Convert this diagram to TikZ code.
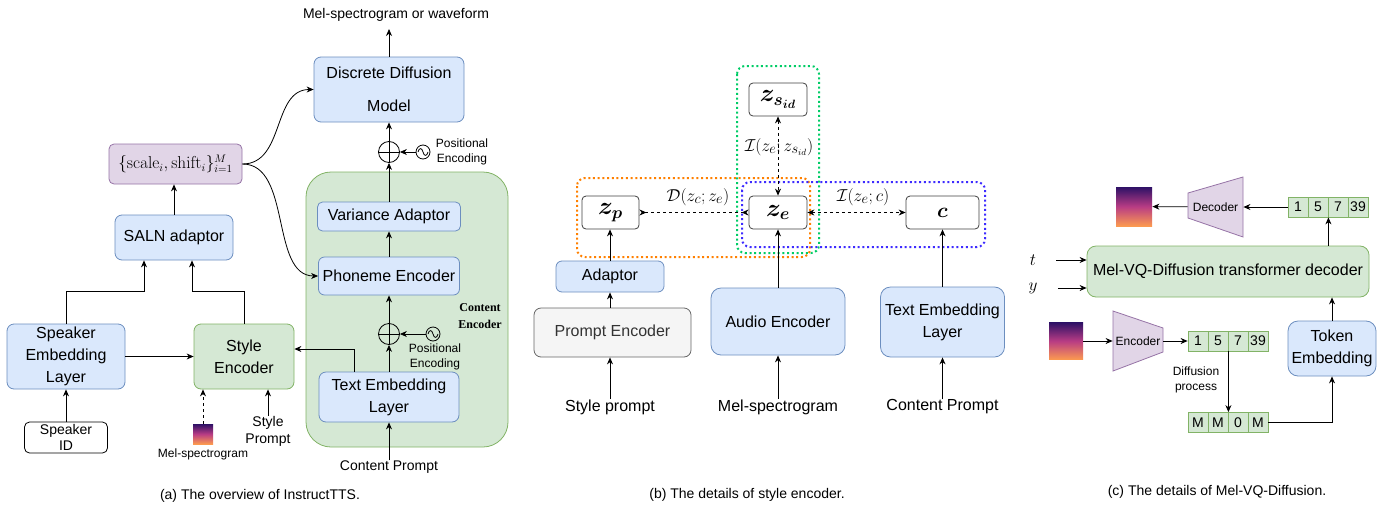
\documentclass[tikz,border=0pt]{standalone}
\usepackage[no-math]{fontspec}
\setmainfont{Liberation Sans}
\newfontfamily\cencfont{Liberation Serif}
\usepackage{amsmath}
\usepackage{bm}
\usetikzlibrary{
  arrows.meta,
}
\definecolor{blueLine}{HTML}{6C8EBF}
\definecolor{blueFill}{HTML}{DAE8FC}
\definecolor{greenLine}{HTML}{82B366}
\definecolor{greenFill}{HTML}{D5E8D4}
\definecolor{purpleLine}{HTML}{9673A6}
\definecolor{purpleFill}{HTML}{E1D5E7}
\definecolor{grayLine}{HTML}{666666}
\definecolor{grayFill}{HTML}{F5F5F5}
\definecolor{grayText}{HTML}{333333}
\definecolor{grpGreen}{HTML}{00CC66}
\definecolor{grpOrange}{HTML}{FF8000}
\definecolor{grpBlue}{HTML}{3D2BFF}
\definecolor{specTop}{HTML}{2E1166}
\definecolor{specMid}{HTML}{B83C84}
\definecolor{specBot}{HTML}{FC9A50}

\begin{document}
\begin{tikzpicture}[x=1pt,y=-1pt,line width=0.8pt,
  >={Stealth[length=7pt,width=6pt]},
  every node/.style={inner sep=0pt,font=\fontsize{16}{19}\selectfont}]
\useasboundingbox (0,0) rectangle (1396,506);

\tikzset{
  box/.style={draw=#1Line, fill=#1Fill, rounded corners=7pt, align=center,
    font=\fontsize{16}{22}\selectfont},
  zbox/.style={draw=black!75, fill=white, rounded corners=4pt,
    minimum width=58pt, minimum height=33pt, font=\fontsize{25}{28}\selectfont},
  mlab/.style={font=\fontsize{19}{21}\selectfont},
  cell/.style={draw=greenLine, fill=greenFill, minimum width=20pt,
    minimum height=20pt, font=\fontsize{14}{16}\selectfont},
  small/.style={align=center, font=\fontsize{12}{15}\selectfont},
  mid/.style={align=center, font=\fontsize{14}{17}\selectfont},
  group/.style={draw=#1, line width=2pt, dash pattern=on 2pt off 2.7pt,
    rounded corners=8pt},
  plus/.style={circle, draw, minimum size=21pt, path picture={
    \draw (path picture bounding box.north) -- (path picture bounding box.south)
          (path picture bounding box.west) -- (path picture bounding box.east);}},
  wave/.style={circle, draw, minimum size=14pt, path picture={
    \draw[shift={(path picture bounding box.center)}]
      (-5,0) .. controls (-4,-4.5) and (-1,-4.5) .. (0,0)
      .. controls (1,4.5) and (4,4.5) .. (5,0);}},
  spec/.style={top color=specTop, bottom color=specBot, middle color=specMid},
  trap/.style={draw=purpleLine, fill=purpleFill},
}

\node[mid] (melout) at (396,15) {Mel-spectrogram or waveform};
\node[box=blue, minimum width=150pt, minimum height=65pt,
  font=\fontsize{16}{33}\selectfont] (ddm) at (389,89.5) {Discrete Diffusion\\Model};
\coordinate (ddmout) at (389,29);
\draw[->] (ddm.north) -- (ddmout);
\node[plus] (add1) at (389,152) {};
\node[wave] (pos1) at (423,152) {};
\node[small] (pos1txt) at (462,152) {Positional\\Encoding};
\draw[->] (pos1) -- (add1);
\draw[->] (add1) -- (ddm);

\node[box=green, rounded corners=25pt, minimum width=202pt, minimum height=275pt]
  (cenc) at (407,309.5) {};
\node[box=blue, minimum width=143pt, minimum height=29pt, rounded corners=5pt]
  (var) at (389,216.5) {Variance Adaptor};
\draw[->] (var) -- (add1);
\node[box=blue, minimum width=141pt, minimum height=38pt, rounded corners=6pt]
  (pho) at (389,276) {Phoneme Encoder};
\draw[->] (pho) -- (var);
\node[plus] (add2) at (389,334) {};
\node[wave] (pos2) at (433,334) {};
\node[small] (pos2txt) at (435,356.5) {Positional\\Encoding};
\node[align=center, font=\cencfont\bfseries\fontsize{12}{17}\selectfont]
  (cenctxt) at (480,316.5) {Content\\Encoder};
\node[box=blue, minimum width=140pt, minimum height=50pt]
  (tel) at (389,397) {Text Embedding\\Layer};
\draw[->] (pos2) -- (add2);
\draw[->] (add2) -- (pho);
\draw[->] (tel) -- (add2);
\node[mid] (cprompt) at (389,467) {Content Prompt};
\draw[->] (cprompt) -- (tel);

\node[box=green, minimum width=100pt, minimum height=65pt]
  (senc) at (244,356.5) {Style\\Encoder};
\draw[->] ([xshift=-35pt]tel.north) |- ([yshift=7.5pt]senc.east);
\node[box=blue, minimum width=118pt, minimum height=65pt]
  (spk) at (66,356.5) {Speaker\\Embedding\\Layer};
\draw[->] (spk) -- (senc);
\node[draw, rounded corners=5pt, minimum width=83pt, minimum height=31pt,
  align=center, font=\fontsize{14}{16}\selectfont] (sid) at (66,437.5) {Speaker\\ID};
\draw[->] (sid) -- (spk);
\node[spec, minimum width=20pt, minimum height=20pt] (melA) at (203,434) {};
\node[small] (melAtxt) at (203,454) {Mel-spectrogram};
\draw[->, dashed] (melA) -- (melA |- senc.south);
\node[mid] (sprompt) at (268,431.5) {Style\\Prompt};
\draw[->] (sprompt) -- (sprompt |- senc.south);

\node[box=blue, minimum width=118pt, minimum height=45pt]
  (saln) at (174,237.5) {SALN adaptor};
\draw[->] (spk.north) -- ++(0,-32) -| ([xshift=-30pt]saln.south);
\draw[->] (senc.north) -- ++(0,-32) -| ([xshift=18pt]saln.south);
\node[box=purple, minimum width=133pt, minimum height=40pt, rounded corners=5pt,
  font=\fontsize{16}{19}\selectfont]
  (film) at (175.5,164) {$\{\mathrm{scale}_i,\mathrm{shift}_i\}_{i=1}^M$};
\draw[->] (saln.north) -- (saln.north |- film.south);
\draw[->] (film.east) .. controls (285,164) and (272,89.5) .. (ddm.west);
\draw[->] (film.east) .. controls (292,164) and (270,276) .. (pho.west);
\node[mid] (capA) at (260,496) {(a) The overview of InstructTTS.};

\node[zbox] (zsid) at (778,99.5) {$\bm{z_{s_{id}}}$};
\node[zbox] (ze) at (778,212.5) {$\bm{z_e}$};
\node[zbox, minimum width=57pt] (zp) at (610.5,212.5) {$\bm{z_p}$};
\node[zbox, minimum width=73pt, font=\fontsize{22}{24}\selectfont]
  (zc) at (942.5,212.5) {$\bm{c}$};
\draw[group=grpGreen] (737,66) rectangle (819,253);
\draw[group=grpOrange] (577,178) rectangle (810,257);
\draw[group=grpBlue] (742,182) rectangle (985,247);
\draw[<->, dashed] (zsid) -- (ze);
\draw[{Stealth[length=7pt,width=6pt,reversed]}-{Stealth[length=7pt,width=6pt,reversed]},
  dashed] (zp) -- (ze);
\draw[<->, dashed] (ze) -- (zc);
\node[mlab] (mi1) at (779,147) {$\mathcal{I}(z_e;z_{s_{id}})$};
\node[mlab] (md) at (698,197) {$\mathcal{D}(z_c;z_e)$};
\node[mlab] (mi2) at (863,197) {$\mathcal{I}(z_e;c)$};

\node[box=blue, minimum width=108pt, minimum height=31pt, rounded corners=6pt]
  (adp) at (610,276.5) {Adaptor};
\draw[->] (adp.north) -- (adp.north |- zp.south);
\node[box=gray, text=grayText, minimum width=157pt, minimum height=49pt]
  (pen) at (612.5,332.5) {Prompt Encoder};
\draw[->] (adp.south |- pen.north) -- (adp.south);
\node (sty) at (610,407) {Style prompt};
\draw[->] (sty.north) -- (sty.north |- pen.south);
\node[box=blue, minimum width=134pt, minimum height=67pt, rounded corners=10pt]
  (aenc) at (778,321.5) {Audio Encoder};
\draw[->] (aenc) -- (ze);
\node (melB) at (778,407) {Mel-spectrogram};
\draw[->] (melB) -- (aenc);
\node[box=blue, minimum width=124pt, minimum height=70pt, rounded corners=10pt]
  (telb) at (942.5,322) {Text Embedding\\Layer};
\draw[->] (telb) -- (zc);
\node (cpb) at (942.5,407) {Content Prompt};
\draw[->] (cpb) -- (telb);
\node[mid] (capB) at (747,495) {(b) The details of style encoder.};

\node[spec, minimum width=36pt, minimum height=39pt] (melC) at (1134,206.5) {};
\draw[trap] (1188,193) -- (1243,177) -- (1243,237) -- (1188,218) -- cycle;
\node[small, minimum width=55pt] (dec) at (1215.5,207) {Decoder};
\foreach \v [count=\i] in {1,5,7,39}
  \node[cell] (top\i) at (1278+20*\i,207) {\v};
\draw[->] (top1) -- (dec);
\draw[->] (dec) -- (melC);
\node[box=green, minimum width=282pt, minimum height=51pt, rounded corners=9pt]
  (mvq) at (1228,271.5) {Mel-VQ-Diffusion transformer decoder};
\draw[->] (mvq.north -| top2.south east) -- (top2.south east);
\node (tin) at (1033,260) {$t$};
\node (yin) at (1033,288) {$y$};
\draw[->, shorten <=20pt] (tin) -- (tin -| mvq.west);
\draw[->, shorten <=20pt] (yin) -- (yin -| mvq.west);

\draw[trap] (1113,311) -- (1163,328) -- (1163,352) -- (1113,371) -- cycle;
\node[small, minimum width=50pt] (enc) at (1138,341) {Encoder};
\node[spec, minimum width=34pt, minimum height=37pt] (melD) at (1066,341) {};
\draw[->] (melD) -- (enc);
\foreach \v [count=\i] in {1,5,7,39}
  \node[cell] (mid\i) at (1178+20*\i,341) {\v};
\draw[->] (enc) -- (mid1);
\foreach \v [count=\i] in {M,M,0,M}
  \node[cell] (msk\i) at (1178+20*\i,422.5) {\v};
\draw[->] (mid2.south east) -- (msk2.north east);
\node[small] (diff) at (1196,379.5) {Diffusion\\process};
\node[box=blue, minimum width=88pt, minimum height=55pt, rounded corners=10pt]
  (tok) at (1332,348.5) {Token\\Embedding};
\draw[->] (msk4) -| (tok);
\draw[->] (tok.north) -- (tok.north |- mvq.south);
\node[mid] (capC) at (1217,492) {(c) The details of Mel-VQ-Diffusion.};
\end{tikzpicture}
\end{document}
